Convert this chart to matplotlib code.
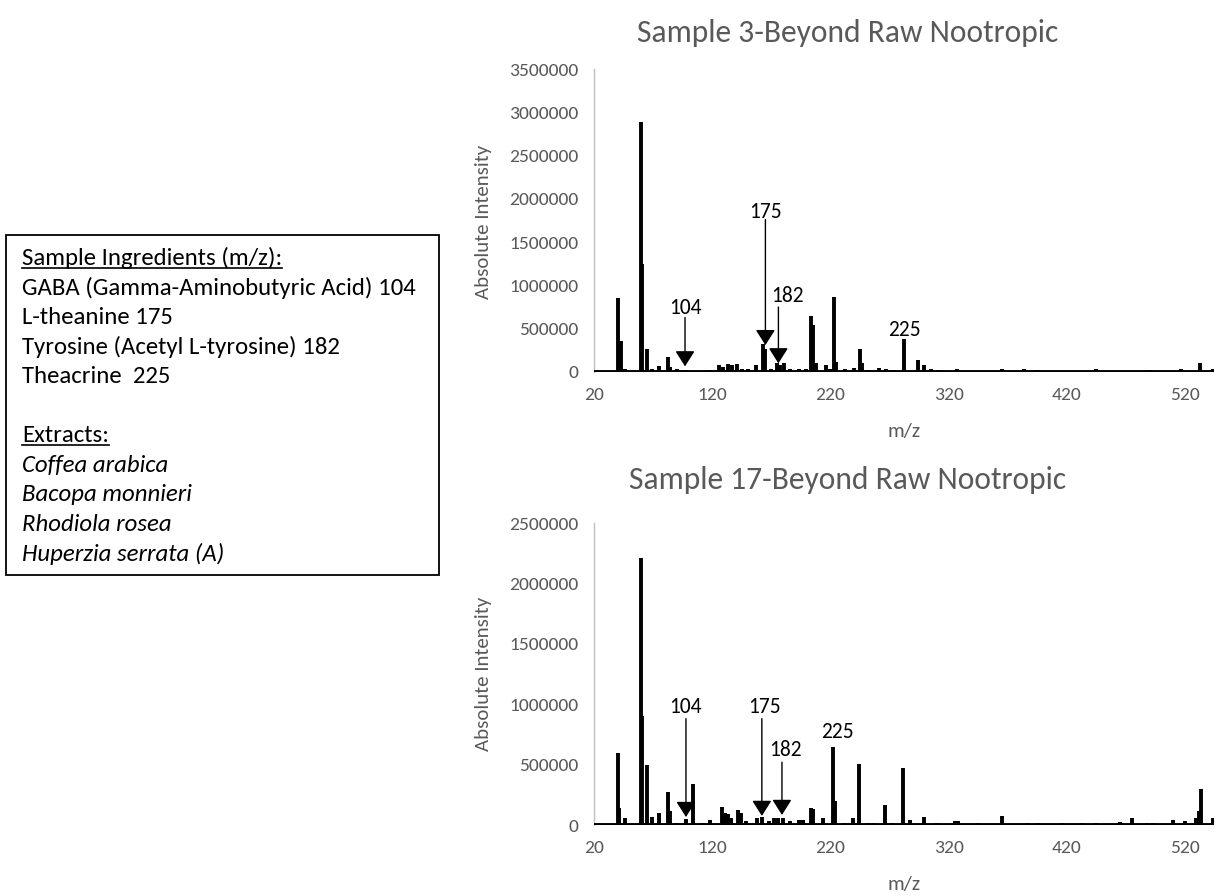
import matplotlib

matplotlib.use("Agg")
import matplotlib.pyplot as plt
from matplotlib.lines import Line2D
from matplotlib.patches import Rectangle
from matplotlib.ticker import FuncFormatter

plt.rcParams["font.family"] = ["Carlito", "Lato", "DejaVu Sans"]

# ---- data (m/z, absolute intensity) ----
TOP_MZ = [40, 42.6, 46, 52, 60, 61, 64.5, 69, 74.7, 82.3, 84, 90, 98, 110, 118,
          125.7, 129, 133, 137, 140.8, 145, 150, 157, 162.6, 164.5, 170, 174.7,
          177.5, 180.4, 186, 193.6, 199, 203.8, 205.5, 208, 216, 220, 223, 224.5,
          232, 240, 245, 247, 252, 260.8, 267, 274, 282, 294, 299, 305, 310.6,
          326.8, 345, 365, 384, 394.7, 420, 444.5, 465, 474.7, 490, 505, 517,
          533, 543.8]
TOP_INT = [858000, 354000, 30000, 15000, 2885000, 1250000, 270000, 30000, 65000,
           170000, 60000, 30000, 20000, 15000, 25000, 80000, 60000, 90000, 85000,
           90000, 40000, 30000, 80000, 320000, 260000, 40000, 100000, 80000,
           100000, 40000, 30000, 40000, 650000, 540000, 100000, 80000, 40000,
           865000, 120000, 30000, 50000, 260000, 100000, 25000, 50000, 30000,
           20000, 385000, 135000, 80000, 30000, 20000, 40000, 15000, 40000, 40000,
           25000, 15000, 30000, 15000, 15000, 20000, 15000, 30000, 100000, 40000]

BOT_MZ = [40, 41.5, 46.4, 60, 61, 64.5, 69.4, 74.7, 83, 84.5, 90, 98, 104, 112,
          118, 128.3, 131, 133, 136, 142, 144, 149, 157.7, 162, 168, 172, 176,
          180, 186, 193.6, 197, 203.8, 205.5, 214, 222.5, 224, 232, 238.9, 244,
          252, 256, 266, 272, 281.5, 287, 299, 310, 325.7, 328, 345, 365.3, 386,
          395.5, 416, 433, 444.5, 465, 475.5, 488, 493, 509.4, 520, 529.4, 531.5,
          533.2, 544]
BOT_INT = [594000, 140000, 55000, 2210000, 900000, 500000, 70000, 100000, 270000,
           120000, 20000, 50000, 340000, 20000, 40000, 146000, 100000, 90000,
           60000, 124000, 100000, 30000, 60000, 70000, 30000, 60000, 60000, 60000,
           30000, 40000, 40000, 144000, 130000, 60000, 644000, 200000, 20000,
           60000, 503000, 20000, 20000, 166000, 20000, 470000, 40000, 63000, 15000,
           30000, 30000, 15000, 75000, 20000, 20000, 15000, 15000, 20000, 25000,
           60000, 20000, 20000, 45000, 30000, 60000, 120000, 300000, 60000]

# arrow annotations: label, arrow m/z, arrow start, arrow tip, label m/z, label y
TOP_ARROW_LABELS = ["104", "175", "182"]
TOP_ARROW_MZ = [97, 165, 176]
TOP_ARROW_FROM = [630000, 1760000, 750000]
TOP_ARROW_TO = [65000, 310000, 100000]
TOP_LABEL_MZ = [97, 164.7, 184]
TOP_LABEL_Y = [740000, 1850000, 880000]
TOP_PEAK_LABEL = ("225", 283, 490000)

BOT_ARROW_LABELS = ["104", "175", "182"]
BOT_ARROW_MZ = [97.8, 162, 179]
BOT_ARROW_FROM = [880000, 880000, 520000]
BOT_ARROW_TO = [66000, 75000, 83000]
BOT_LABEL_MZ = [97, 164, 181.6]
BOT_LABEL_Y = [975000, 975000, 620000]
BOT_PEAK_LABEL = ("225", 225.6, 770000)

X_TICKS = [20, 120, 220, 320, 420, 520]
X_MAX = 544.5
TOP_YMAX = 3500000
BOT_YMAX = 2500000

INGREDIENTS = [
    "GABA (Gamma-Aminobutyric Acid) 104",
    "L-theanine 175",
    "Tyrosine (Acetyl L-tyrosine) 182",
    "Theacrine  225",
]
EXTRACTS = ["Coffea arabica", "Bacopa monnieri", "Rhodiola rosea", "Huperzia serrata (A)"]

GREY = "#595959"
W, H = 1217, 896

fig = plt.figure(figsize=(W / 100, H / 100), dpi=100)


def px_axes(left, right, y0, ytop):
    """Axes placed by pixel edges (y measured from the top of the image)."""
    return fig.add_axes([left / W, 1 - y0 / H, (right - left) / W, (y0 - ytop) / H])


def spectrum(ax, mz, inten, ymax, arrows, peak_label):
    ax.plot([20, X_MAX], [0, 0], color="black", lw=2.8, solid_capstyle="butt", zorder=3)
    ax.vlines(mz, 0, inten, color="black", lw=2.8, zorder=3)
    ax.set_xlim(20, X_MAX)
    ax.set_ylim(0, ymax)
    ax.set_xticks(X_TICKS)
    ax.set_yticks(range(0, ymax + 1, 500000))
    ax.yaxis.set_major_formatter(FuncFormatter(lambda v, _: f"{int(v)}"))
    for s in ("top", "right", "bottom"):
        ax.spines[s].set_visible(False)
    ax.spines["left"].set_color("#bfbfbf")
    ax.spines["left"].set_linewidth(1)
    ax.tick_params(length=0, labelsize=14, labelcolor=GREY)
    ax.tick_params(axis="x", pad=11)
    ax.tick_params(axis="y", pad=11)
    ax.set_xlabel("m/z", fontsize=15, color=GREY, labelpad=14)

    labels, amz, afrom, ato, lmz, ly = arrows
    for lab, x, y1, y2, tx, ty in zip(labels, amz, afrom, ato, lmz, ly):
        ax.annotate("", xy=(x, y2), xytext=(x, y1),
                    arrowprops=dict(arrowstyle="-|>,head_length=0.95,head_width=0.6",
                                    mutation_scale=10, lw=1, color="black",
                                    shrinkA=0, shrinkB=0), zorder=4)
        ax.text(tx, ty, lab, ha="center", va="center", fontsize=15.5, color="black")
    lab, tx, ty = peak_label
    ax.text(tx, ty, lab, ha="center", va="center", fontsize=15.5, color="black")


ax1 = px_axes(594, 1214, 372, 69)
spectrum(ax1, TOP_MZ, TOP_INT, TOP_YMAX,
         (TOP_ARROW_LABELS, TOP_ARROW_MZ, TOP_ARROW_FROM, TOP_ARROW_TO,
          TOP_LABEL_MZ, TOP_LABEL_Y), TOP_PEAK_LABEL)
ax2 = px_axes(594, 1214, 825, 523)
spectrum(ax2, BOT_MZ, BOT_INT, BOT_YMAX,
         (BOT_ARROW_LABELS, BOT_ARROW_MZ, BOT_ARROW_FROM, BOT_ARROW_TO,
          BOT_LABEL_MZ, BOT_LABEL_Y), BOT_PEAK_LABEL)

fig.text(848 / W, 1 - 33 / H, "Sample 3-Beyond Raw Nootropic", ha="center",
         va="center", fontsize=22.7, color=GREY)
fig.text(848 / W, 1 - 480 / H, "Sample 17-Beyond Raw Nootropic", ha="center",
         va="center", fontsize=22.7, color=GREY)
fig.text(483 / W, 1 - 222 / H, "Absolute Intensity", rotation=90, ha="center",
         va="center", fontsize=15, color=GREY)
fig.text(483 / W, 1 - 674 / H, "Absolute Intensity", rotation=90, ha="center",
         va="center", fontsize=15, color=GREY)

# ---- ingredient text box ----
fig.add_artist(Rectangle((6 / W, 1 - 575 / H), (439 - 6) / W, (575 - 235) / H,
                         transform=fig.transFigure, fill=False, lw=1.3,
                         edgecolor="black"))
step = 29.6
y = 258
heads = []
heads.append(fig.text(22 / W, 1 - y / H, "Sample Ingredients (m/z):", va="center",
                      fontsize=17.8))
for line in INGREDIENTS:
    y += step
    fig.text(22 / W, 1 - y / H, line, va="center", fontsize=17.8)
y += 2 * step
heads.append(fig.text(22 / W, 1 - y / H, "Extracts:", va="center", fontsize=17.8))
for line in EXTRACTS:
    y += step
    fig.text(22 / W, 1 - y / H, line, va="center", fontsize=17.8, style="italic")

fig.canvas.draw()
renderer = fig.canvas.get_renderer()
for t in heads:
    bb = t.get_window_extent(renderer)
    yl = (bb.y0 + 1) / H
    fig.add_artist(Line2D([bb.x0 / W, bb.x1 / W], [yl, yl], color="black", lw=1.2,
                          transform=fig.transFigure))

fig.savefig("out.png", dpi=100)
